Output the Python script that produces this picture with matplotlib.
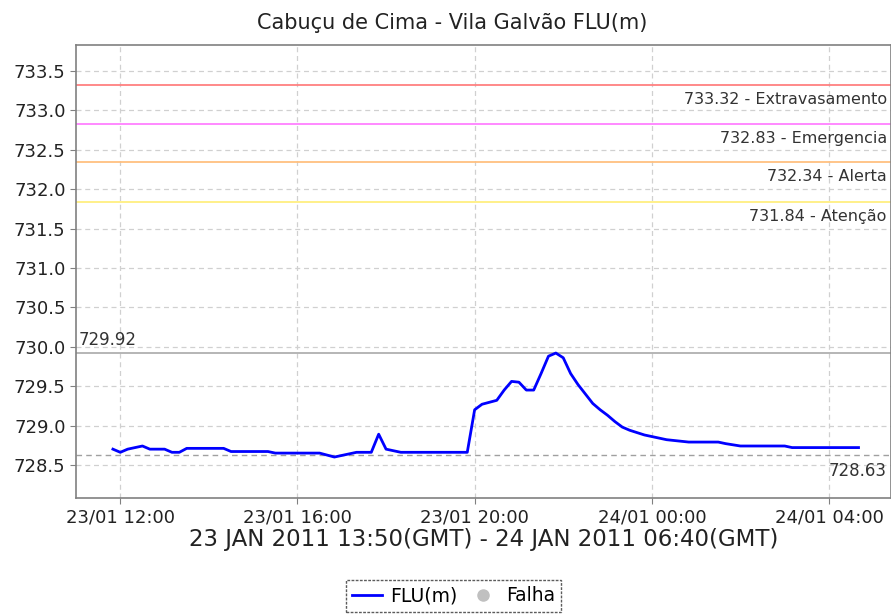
import matplotlib
matplotlib.use("Agg")
import matplotlib.pyplot as plt
import matplotlib.dates as mdates
from matplotlib.lines import Line2D
from datetime import datetime

# ---- data ----
times = ["23 11:50", "23 12:00", "23 12:10", "23 12:30", "23 12:40", "23 13:00",
         "23 13:10", "23 13:20", "23 13:30", "23 14:20", "23 14:30", "23 15:20",
         "23 15:30", "23 16:30", "23 16:50", "23 17:10", "23 17:20", "23 17:40",
         "23 17:50", "23 18:00", "23 18:20", "23 19:50", "23 20:00", "23 20:10",
         "23 20:30", "23 20:40", "23 20:50", "23 21:00", "23 21:10", "23 21:20",
         "23 21:30", "23 21:40", "23 21:50", "23 22:00", "23 22:10", "23 22:20",
         "23 22:30", "23 22:40", "23 22:50", "23 23:00", "23 23:10", "23 23:20",
         "23 23:30", "23 23:50", "24 00:00", "24 00:20", "24 00:50", "24 01:30",
         "24 01:40", "24 02:00", "24 03:00", "24 03:10", "24 04:40"]
levels = [728.70, 728.66, 728.70, 728.74, 728.70, 728.70,
          728.66, 728.66, 728.71, 728.71, 728.67, 728.67,
          728.65, 728.65, 728.60, 728.64, 728.66, 728.66,
          728.89, 728.70, 728.66, 728.66, 729.20, 729.27,
          729.32, 729.45, 729.56, 729.55, 729.45, 729.45,
          729.66, 729.88, 729.92, 729.86, 729.66, 729.52,
          729.40, 729.28, 729.20, 729.13, 729.05, 728.98,
          728.94, 728.88, 728.86, 728.82, 728.79, 728.79,
          728.77, 728.74, 728.74, 728.72, 728.72]

thresholds = [733.32, 732.83, 732.34, 731.84]
threshold_names = ["Extravasamento", "Emergencia", "Alerta", "Atenção"]
threshold_colors = ["#ff8080", "#ff80ff", "#ffc080", "#ffef80"]
max_level = 729.92
min_level = 728.63
yticks = [728.5, 729.0, 729.5, 730.0, 730.5, 731.0, 731.5, 732.0, 732.5, 733.0, 733.5]

title = "Cabuçu de Cima - Vila Galvão FLU(m)"
xlabel = "23 JAN 2011 13:50(GMT) - 24 JAN 2011 06:40(GMT)"

# ---- plot ----
plt.rcParams['font.family'] = ['DejaVu Sans']
dt = [datetime.strptime("2011-01-" + t, "%Y-%m-%d %H:%M") for t in times]

fig = plt.figure(figsize=(8.91, 6.14), dpi=100)
ax = fig.add_axes([76/891, 1-498/614, (891-76)/891, (498-45)/614])

ax.set_xlim(datetime(2011, 1, 23, 11, 0), datetime(2011, 1, 24, 5, 24))
ax.set_ylim(728.08, 733.83)

ax.grid(True, color="#d0d0d0", linestyle=(0, (4, 3)), linewidth=0.9)
ax.set_axisbelow(True)

for v, n, c in zip(thresholds, threshold_names, threshold_colors):
    ax.axhline(v, color=c, linewidth=1.3, zorder=2)
    ax.annotate(f"{v:.2f} - {n}", xy=(1, v), xycoords=("axes fraction", "data"),
                xytext=(-3, -5), textcoords="offset points", ha="right", va="top",
                fontsize=11.5, color="#333333")

ax.axhline(max_level, color="#b0b0b0", linewidth=1.3, zorder=2)
ax.annotate(f"{max_level:.2f}", xy=(0, max_level), xycoords=("axes fraction", "data"),
            xytext=(2, 3), textcoords="offset points", ha="left", va="bottom",
            fontsize=12, color="#333333")
ax.axhline(min_level, color="#a0a0a0", linewidth=1.0, linestyle=(0, (4, 3)), zorder=2)
ax.annotate(f"{min_level:.2f}", xy=(1, min_level), xycoords=("axes fraction", "data"),
            xytext=(-3, -5), textcoords="offset points", ha="right", va="top",
            fontsize=12, color="#333333")

ax.plot(dt, levels, color="#0000ff", linewidth=2.0, zorder=3)

ax.set_yticks(yticks)
ax.set_yticklabels([f"{v:.1f}" for v in yticks])
ax.xaxis.set_major_locator(mdates.HourLocator(byhour=[0, 4, 8, 12, 16, 20]))
ax.xaxis.set_major_formatter(mdates.DateFormatter("%d/%m %H:%M"))
ax.tick_params(axis="y", colors="#808080", labelcolor="#222222", labelsize=13, length=4)
ax.tick_params(axis="x", colors="#808080", labelcolor="#222222", labelsize=13, length=4)

for s in ax.spines.values():
    s.set_color("#808080")
    s.set_linewidth(1.2)

fig.text(0.507, 0.963, title, fontsize=15, color="#222222", ha="center", va="center")
ax.set_xlabel(xlabel, fontsize=16.5, color="#222222", labelpad=1)

handles = [Line2D([0], [0], color="#0000ff", linewidth=2),
           Line2D([0], [0], marker="o", color="none", markerfacecolor="#c0c0c0",
                  markeredgecolor="#c0c0c0", markersize=8)]
leg = fig.legend(handles, ["FLU(m)", "Falha"], loc="lower center", ncol=2,
                 bbox_to_anchor=(0.509, -0.012), fontsize=13.5, frameon=True,
                 fancybox=False, handlelength=1.6, handletextpad=0.4, columnspacing=0.6,
                 borderpad=0.35)
leg.get_frame().set_edgecolor("#333333")
leg.get_frame().set_linestyle((0, (2, 1)))
leg.get_frame().set_linewidth(1.0)

fig.savefig("out.png", dpi=100)
